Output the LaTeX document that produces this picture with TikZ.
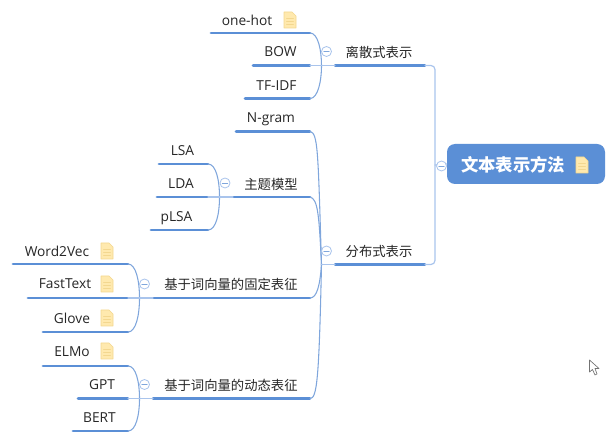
\documentclass[tikz,border=0pt]{standalone}
\usepackage{fontspec}
\setmainfont{Open Sans}
\newfontfamily\cjk{Noto Sans CJK SC}
\definecolor{barblue}{HTML}{5B8FD6}
\definecolor{linkblue}{HTML}{7FA6DC}
\definecolor{paleblue}{HTML}{A9C4EC}
\definecolor{notefill}{HTML}{FFE9AE}
\definecolor{noteline}{HTML}{F3D78F}
\tikzset{
	lbl/.style={inner sep=0pt,text=black!85,font=\fontsize{10.3}{12}\selectfont},
	zh/.style={inner sep=0pt,text=black!85,font=\fontsize{10}{12}\selectfont\cjk},
	bar/.style={line width=2.2pt,color=barblue},
	link/.style={line width=.8pt,color=linkblue},
	trunk/.style={line width=.9pt,color=paleblue},
	rootbox/.style={fill=barblue,rounded corners=6pt,minimum width=118.5pt,minimum height=30pt,inner sep=0pt},
	toggle/.style={circle,draw=paleblue,fill=white,line width=.6pt,minimum size=7.5pt,inner sep=0pt,
		path picture={\draw[linkblue,line width=.6pt] ([xshift=-2pt]path picture bounding box.center)--([xshift=2pt]path picture bounding box.center);}},
	note/.pic={
		\fill[notefill,draw=noteline,line width=.4pt] (-6,-8)--(2,-8)--(6,-4)--(6,8)--(-6,8)--cycle;
		\draw[noteline,line width=.6pt] (-3.5,-1.5)--(3.5,-1.5) (-3.5,1.5)--(3.5,1.5) (-3.5,4.5)--(3.5,4.5);
	}
}
\begin{document}
\begin{tikzpicture}[x=.75pt,y=-.75pt,line join=round,line cap=round]
	\useasboundingbox (0,0) rectangle (612,442);
	% root and first level
	\node[rootbox] (root) at (526,164) {};
	\node[inner sep=0pt,text=white,font=\fontsize{13}{15}\bfseries\selectfont\cjk] (roottext) at (513,165) {文本表示方法};
	\coordinate (rootfork) at (435,165);
	\node[zh] (discrete) at (379,52) {离散式表示};
	\node[zh] (distrib) at (379,251.5) {分布式表示};
	\draw[bar] (335,65.5) coordinate (discretel) -- (425,65.5) coordinate (discreter);
	\draw[bar] (335,264.5) coordinate (distribl) -- (425,264.5) coordinate (distribr);
	\draw[trunk] (root.west) -- (rootfork);
	\draw[trunk] (discreter) -- (431,65.5) arc (-90:0:4) -- (435,260.5) arc (0:90:4) -- (distribr);
	% discrete group
	\node[lbl] (onehot) at (247,20) {one-hot};
	\node[lbl] (bow) at (280.5,52) {BOW};
	\node[lbl] (tfidf) at (276.5,85.5) {TF-IDF};
	\node[lbl] (ngram) at (271,119) {N-gram};
	\draw[bar] (211,33) -- (310,33) coordinate (onehotr);
	\draw[bar] (253,65.5) -- (310,65.5) coordinate (bowr);
	\draw[bar] (245,98.5) -- (310,98.5) coordinate (tfidfr);
	\draw[bar] (236,131.5) -- (310,131.5) coordinate (ngramr);
	\coordinate (discretefork) at (321.5,65.5);
	\draw[link] (onehotr) .. controls (318,33) and (321.5,50) .. (discretefork);
	\draw[link] (tfidfr) .. controls (318,98.5) and (321.5,81) .. (discretefork);
	\draw[link,color=paleblue] (bowr) -- (discretel);
	% topic model group
	\node[lbl] (lsa) at (182.5,151) {LSA};
	\node[lbl] (lda) at (181,184) {LDA};
	\node[lbl] (plsa) at (176.5,218) {pLSA};
	\node[zh] (topic) at (271,184) {主题模型};
	\draw[bar] (159,164) -- (208,164) coordinate (lsar);
	\draw[bar] (157,197) -- (208,197) coordinate (ldar);
	\draw[bar] (151,230) -- (208,230) coordinate (plsar);
	\draw[bar] (233,197) coordinate (topicl) -- (310,197) coordinate (topicr);
	\coordinate (topicfork) at (219.5,197);
	\draw[link] (lsar) .. controls (216,164) and (219.5,180) .. (topicfork);
	\draw[link] (plsar) .. controls (216,230) and (219.5,214) .. (topicfork);
	\draw[link,color=paleblue] (ldar) -- (topicl);
	% static vectors
	\node[lbl] (wordvec) at (57,251) {Word2Vec};
	\node[lbl] (fasttext) at (65,284) {FastText};
	\node[lbl] (glove) at (72,318) {Glove};
	\node[zh] (static) at (231,284) {基于词向量的固定表征};
	\draw[bar] (13,264) -- (128,264) coordinate (wordvecr);
	\draw[bar] (28,298) -- (128,298) coordinate (fasttextr);
	\draw[bar] (43,332) -- (128,332) coordinate (glover);
	\draw[bar] (153,298) coordinate (staticl) -- (310,298) coordinate (staticr);
	\coordinate (staticfork) at (139.5,298);
	\draw[link] (wordvecr) .. controls (136,264) and (139.5,281) .. (staticfork);
	\draw[link] (glover) .. controls (136,332) and (139.5,315) .. (staticfork);
	\draw[link,color=paleblue] (fasttextr) -- (staticl);
	% dynamic vectors
	\node[lbl] (elmo) at (72,352) {ELMo};
	\node[lbl] (gpt) at (102,385) {GPT};
	\node[lbl] (bert) at (99.5,418) {BERT};
	\node[zh] (dynamic) at (231,385) {基于词向量的动态表征};
	\draw[bar] (43,366) -- (128,366) coordinate (elmor);
	\draw[bar] (78,398.5) -- (128,398.5) coordinate (gptr);
	\draw[bar] (73,431) -- (128,431) coordinate (bertr);
	\draw[bar] (153,398.5) coordinate (dynamicl) -- (310,398.5) coordinate (dynamicr);
	\coordinate (dynamicfork) at (139.5,398.5);
	\draw[link] (elmor) .. controls (136,366) and (139.5,382) .. (dynamicfork);
	\draw[link] (bertr) .. controls (136,431) and (139.5,415) .. (dynamicfork);
	\draw[link,color=paleblue] (gptr) -- (dynamicl);
	% main bracket
	\coordinate (distribfork) at (321.5,264.5);
	\draw[link] (ngramr) .. controls (318,133) and (318,150) .. (distribfork);
	\draw[link] (topicr) .. controls (318,199) and (319,215) .. (distribfork);
	\draw[link] (staticr) .. controls (317,298) and (320,285) .. (distribfork);
	\draw[link] (dynamicr) .. controls (317,398.5) and (319,380) .. (distribfork);
	\draw[link,color=paleblue] (distribfork) -- (distribl);
	% toggles
	\node[toggle] (tgroot) at (441.5,166) {};
	\node[toggle] (tgdiscrete) at (326.5,51.5) {};
	\node[toggle] (tgdistrib) at (326.5,251) {};
	\node[toggle] (tgtopic) at (225,183) {};
	\node[toggle] (tgstatic) at (144.5,284) {};
	\node[toggle] (tgdynamic) at (144.5,384.5) {};
	% notes
	\pic at (290,20) {note};
	\pic at (107,251) {note};
	\pic at (107,284) {note};
	\pic at (107,318) {note};
	\pic at (107,351) {note};
	\pic at (582,165) {note};
	% pointer
	\draw[black!55,fill=white,line width=.5pt] (589.5,360)--(589.5,372)--(592.5,369.5)--(595,375)--(597,374)--(595,368.5)--(599,368.5)--cycle;
\end{tikzpicture}
\end{document}
